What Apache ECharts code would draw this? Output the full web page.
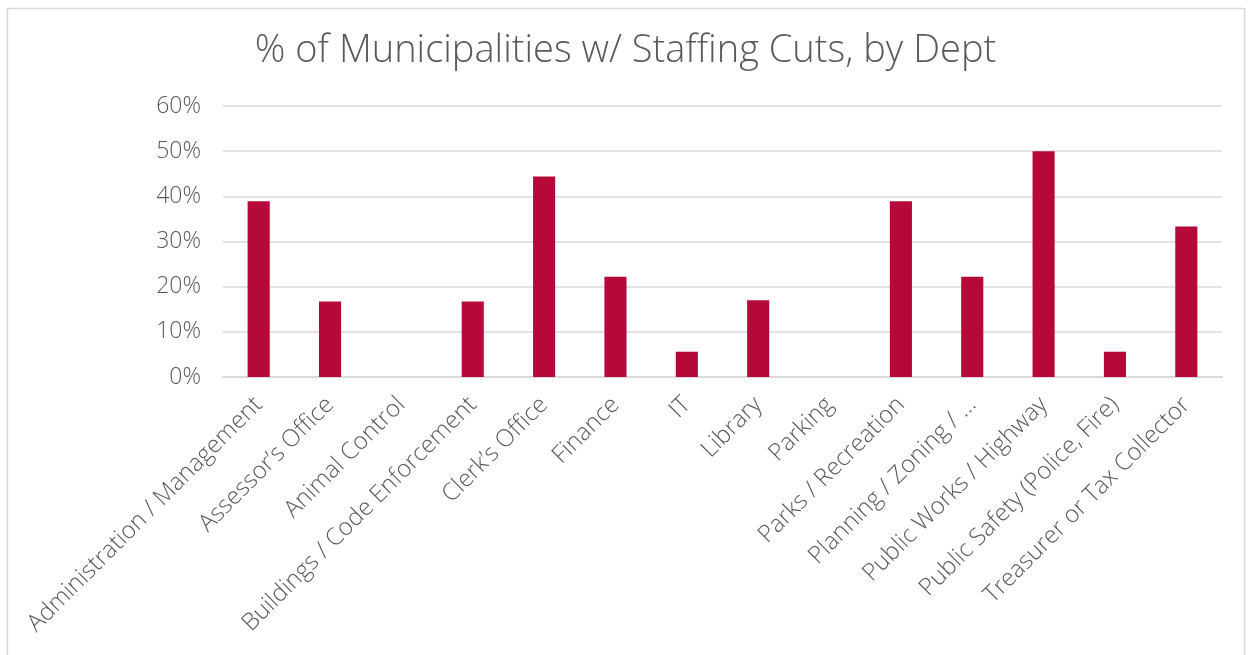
<!DOCTYPE html>
<html>
<head>
<meta charset="utf-8">
<script src="https://cdn.jsdelivr.net/npm/echarts@6/dist/echarts.min.js"></script>
<style>
html,body{margin:0;padding:0;background:#fff;}
#chart{width:1251px;height:655px;}
</style>
</head>
<body>
<div id="chart"></div>
<script>
const categories = ["Administration / Management","Assessor\u2019s Office","Animal Control","Buildings / Code Enforcement","Clerk\u2019s Office","Finance","IT","Library","Parking","Parks / Recreation","Planning / Zoning / \u2026","Public Works / Highway","Public Safety (Police, Fire)","Treasurer or Tax Collector"];
const values = [38.9,16.7,0,16.7,44.4,22.2,5.6,17.0,0,38.9,22.2,50.0,5.6,33.3];
const yTicks = [0,10,20,30,40,50,60];

const chart = echarts.init(document.getElementById('chart'));
const font = '"Open Sans", sans-serif';
chart.setOption({
  animation:false,
  title:{text:'% of Municipalities w/ Staffing Cuts, by Dept',left:'center',top:27,
    textStyle:{fontFamily:font,fontSize:38,fontWeight:300,color:'#595959'}},
  graphic:[{type:'rect',shape:{x:7.5,y:8.5,width:1237,height:660},style:{fill:'none',stroke:'#d9d9d9',lineWidth:1.5},silent:true}],
  grid:{left:223,right:29,top:106,bottom:278,containLabel:false},
  xAxis:{type:'category',data:categories,
    axisLine:{lineStyle:{color:'#d9d9d9',width:2}},axisTick:{show:false},
    axisLabel:{rotate:45,interval:0,margin:24,fontFamily:font,fontSize:24,fontWeight:300,color:'#595959'}},
  yAxis:{type:'value',min:yTicks[0],max:yTicks[yTicks.length-1],interval:10,
    axisLine:{show:false},axisTick:{show:false},
    splitLine:{lineStyle:{color:'#d9d9d9',width:1.5}},
    axisLabel:{formatter:'{value}%',fontFamily:font,fontSize:23,fontWeight:300,color:'#595959',margin:22}},
  series:[{type:'bar',data:values,barWidth:'31%',itemStyle:{color:'#b5093a'}}]
});
</script>
</body>
</html>
